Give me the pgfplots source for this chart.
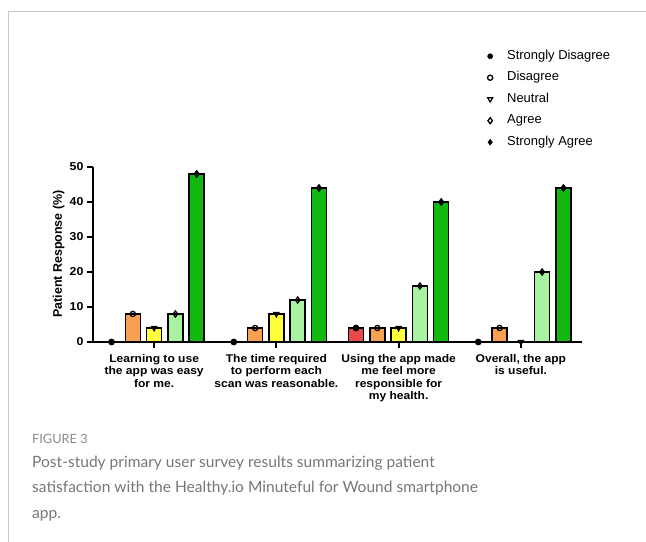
\documentclass[border=0pt]{standalone}
\usepackage{fontspec}
\setmainfont{Liberation Sans}
\newfontfamily\chartfont[FakeStretch=1.08]{Liberation Sans}
\newfontfamily\capfont{Lato}
\usepackage{pgfplots}
\usepackage{pgfplotstable}
\pgfplotsset{compat=1.18}
\definecolor{cSD}{HTML}{E84848}
\definecolor{cD}{HTML}{F7A052}
\definecolor{cN}{HTML}{FFFF3C}
\definecolor{cA}{HTML}{A8F2A2}
\definecolor{cSA}{HTML}{10B810}
\definecolor{frame}{HTML}{C8C8C8}
\definecolor{capgray}{HTML}{767676}

\pgfplotstableread{
g sd d n a sa
1 0 8 4 8 48
2 0 4 8 12 44
3 4 4 4 16 40
4 0 4 0 20 44
}\surveydata

\begin{document}
\begin{tikzpicture}
\path[use as bounding box] (0,0) rectangle (646bp,542bp);
\draw[frame, line width=1bp] (8bp,0) -- (8bp,530bp) -- (646bp,530bp);
\begin{axis}[
  at={(93bp,200bp)}, anchor=south west,
  scale only axis, width=489bp, height=175bp,
  xmin=0.5, xmax=4.5, ymin=0, ymax=50,
  clip=false,
  /pgf/number format/assume math mode=true,
  axis x line*=bottom, axis y line*=left,
  axis line style={line width=1.8bp, black},
  xtick={1,2,3,4}, ytick={0,10,20,30,40,50},
  tick align=outside, major tick length=6bp,
  tick style={line width=1.8bp, black},
  xticklabels={{Learning to use\\the app was easy\\for me.},
               {The time required\\to perform each\\scan was reasonable.},
               {Using the app made\\me feel more\\responsible for\\my health.},
               {Overall, the app\\is useful.}},
  xticklabel style={font=\chartfont\bfseries\fontsize{11.2}{12.3}\selectfont, align=center, yshift=-3bp},
  yticklabel style={font=\chartfont\bfseries\fontsize{11.5}{12.3}\selectfont},
  ylabel={Patient Response (\%)},
  ylabel style={font=\bfseries\fontsize{12.5}{14}\selectfont, at={(axis description cs:-0.07,0.503)}, anchor=center},
  legend style={at={(axis description cs:0.7975,1.677)}, anchor=north west,
     draw=none, fill=none, font=\fontsize{13}{14}\selectfont, row sep=10.5bp,
     nodes={inner sep=0pt, text height=8.5bp, text depth=2.5bp}},
  legend cell align=left,
  legend image code/.code={\draw[#1] plot coordinates {(0bp,0bp)}; \path[draw=none, fill=none] (-4bp,-4bp) rectangle (17bp,4bp);},
]
\addlegendimage{only marks, mark=*, mark size=2.6bp, black}
\addlegendentry{Strongly Disagree}
\addlegendimage{only marks, mark=o, mark size=2.6bp, black, line width=1.3bp}
\addlegendentry{Disagree}
\addlegendimage{only marks, mark=triangle, mark size=2.8bp, mark options={rotate=180}, black, line width=1.2bp}
\addlegendentry{Neutral}
\addlegendimage{only marks, mark=diamond, mark size=3bp, black, line width=1.3bp}
\addlegendentry{Agree}
\addlegendimage{only marks, mark=diamond*, mark size=3bp, black}
\addlegendentry{Strongly Agree}

\addplot[forget plot, ybar, bar shift=0pt, bar width=15bp, fill=cSD, draw=black, line width=1.5bp,
  mark=*, mark size=2.6bp, mark options={black, fill=black}]
  table[x expr=\thisrow{g}-0.3484, y=sd] {\surveydata};
\addplot[forget plot, ybar, bar shift=0pt, bar width=15bp, fill=cD, draw=black, line width=1.5bp,
  mark=o, mark size=2.6bp, mark options={black, line width=1.3bp}]
  table[x expr=\thisrow{g}-0.1742, y=d] {\surveydata};
\addplot[forget plot, ybar, bar shift=0pt, bar width=15bp, fill=cN, draw=black, line width=1.5bp,
  mark=triangle, mark size=2.8bp, mark options={black, rotate=180, line width=1.2bp}]
  table[x expr=\thisrow{g}, y=n] {\surveydata};
\addplot[forget plot, ybar, bar shift=0pt, bar width=15bp, fill=cA, draw=black, line width=1.5bp,
  mark=diamond, mark size=3bp, mark options={black, line width=1.3bp}]
  table[x expr=\thisrow{g}+0.1742, y=a] {\surveydata};
\addplot[forget plot, ybar, bar shift=0pt, bar width=15bp, fill=cSA, draw=black, line width=1.5bp,
  mark=diamond*, mark size=3bp, mark options={black, fill=black}]
  table[x expr=\thisrow{g}+0.3484, y=sa] {\surveydata};
\end{axis}
\node[anchor=base west, inner sep=0pt, text=capgray!85, font=\capfont\fontsize{12.8}{14}\selectfont] at (32bp,98bp) {FIGURE 3};
\node[anchor=base west, inner sep=0pt, text=capgray, font=\capfont\fontsize{15.6}{20}\selectfont] at (32bp,74bp) {Post-study primary user survey results summarizing patient};
\node[anchor=base west, inner sep=0pt, text=capgray, font=\capfont\fontsize{15.6}{20}\selectfont] at (32bp,49bp) {satisfaction with the Healthy.io Minuteful for Wound smartphone};
\node[anchor=base west, inner sep=0pt, text=capgray, font=\capfont\fontsize{15.6}{20}\selectfont] at (32bp,24bp) {app.};
\end{tikzpicture}
\end{document}
